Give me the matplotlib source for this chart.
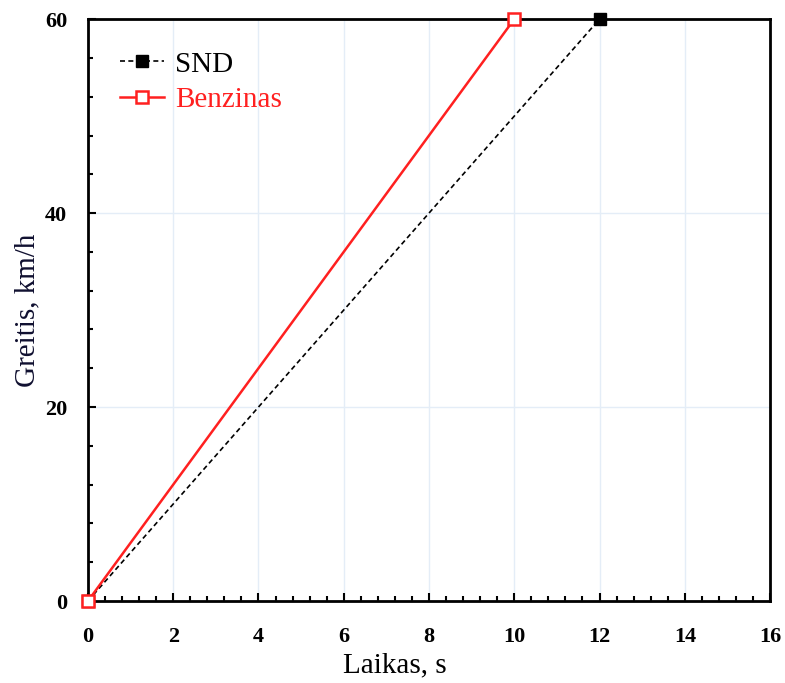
import numpy as np
import matplotlib.pyplot as plt
from matplotlib.ticker import MultipleLocator

plt.rcParams['font.family'] = ['Liberation Serif', 'DejaVu Serif']

laikas_snd = [0, 12]
greitis_snd = [0, 60]
laikas_benz = [0, 10]
greitis_benz = [0, 60]

fig = plt.figure(figsize=(7.85, 6.83), dpi=100)
ax = fig.add_axes([0.112, 0.12, 0.869, 0.852])

ax.plot(laikas_snd, greitis_snd, 'k--', lw=1.2, dashes=(3, 2), marker='s', ms=8,
        mfc='black', mec='black', label='SND', clip_on=False, zorder=3)
ax.plot(laikas_benz, greitis_benz, color='#ff2020', lw=1.8, marker='s', ms=8.5,
        mfc='white', mec='#ff2020', mew=1.8, label='Benzinas', clip_on=False, zorder=4)

ax.set_xlim(0, 16)
ax.set_ylim(0, 60)
ax.xaxis.set_major_locator(MultipleLocator(2))
ax.xaxis.set_minor_locator(MultipleLocator(0.4))
ax.yaxis.set_major_locator(MultipleLocator(20))
ax.yaxis.set_minor_locator(MultipleLocator(4))
ax.tick_params(which='both', direction='in', top=False, right=False, width=1.5)
ax.tick_params(which='major', length=6, labelsize=16)
ax.tick_params(axis='x', which='major', pad=19)
ax.tick_params(axis='y', which='major', pad=15)
ax.tick_params(which='minor', length=3.5)
for lab in ax.get_xticklabels() + ax.get_yticklabels():
    lab.set_fontweight('bold')
for s in ax.spines.values():
    s.set_linewidth(2)
ax.grid(True, which='major', color='#e4edf7', lw=1)

ax.set_xlabel('Laikas, s', fontsize=21)
ax.xaxis.set_label_coords(0.45, -0.088)
ax.set_ylabel('Greitis, km/h', fontsize=21, color='#101030', labelpad=3)

leg = ax.legend(loc='upper left', frameon=False, fontsize=21, handlelength=1.5,
                handletextpad=0.4, labelspacing=0.3, borderaxespad=0.7)
leg.get_texts()[1].set_color('#ff2020')

fig.savefig('out.png', dpi=100)
